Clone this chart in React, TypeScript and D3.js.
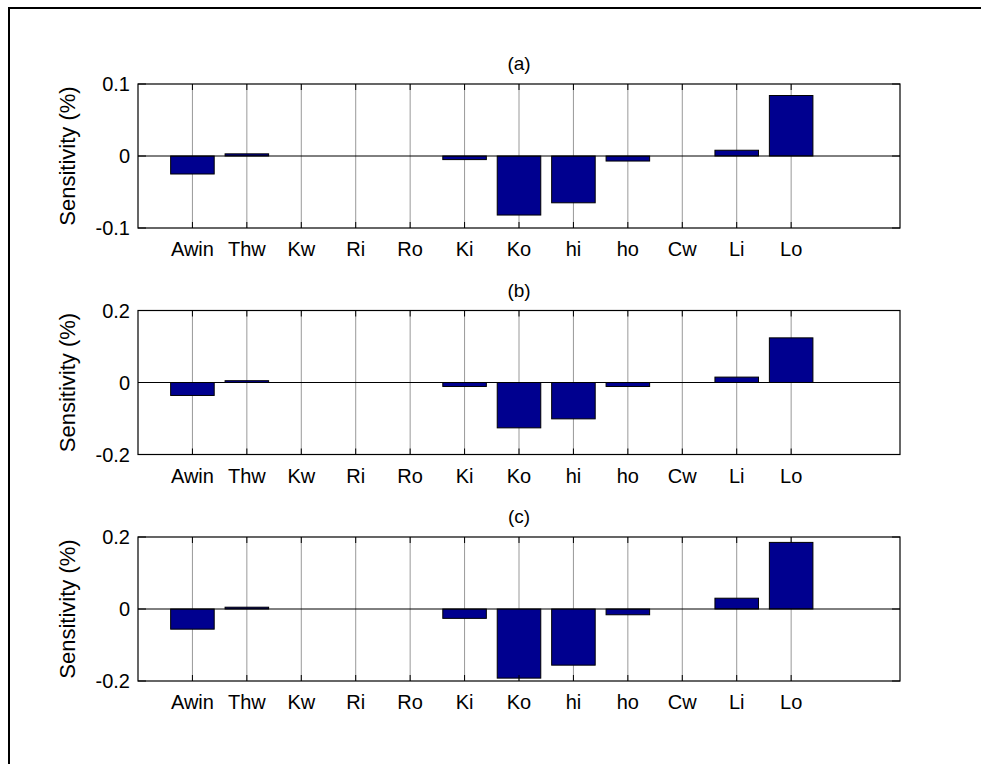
import React from 'react';
import * as d3 from 'd3';

// categories and sensitivities
const categories = ['Awin', 'Thw', 'Kw', 'Ri', 'Ro', 'Ki', 'Ko', 'hi', 'ho', 'Cw', 'Li', 'Lo'];
const sensA = [-0.025, 0.003, 0, 0, 0, -0.005, -0.082, -0.065, -0.007, 0, 0.008, 0.084];
const sensB = [-0.036, 0.005, 0, 0, 0, -0.011, -0.126, -0.101, -0.011, 0, 0.015, 0.124];
const sensC = [-0.056, 0.005, 0, 0, 0, -0.026, -0.192, -0.156, -0.016, 0, 0.03, 0.185];
const titles = ['(a)', '(b)', '(c)'];
const yTicksA = [-0.1, 0, 0.1];
const yTicksBC = [-0.2, 0, 0.2];

const W = 981;
const H = 764;
const FONT = '"Liberation Sans", Arial, Helvetica, sans-serif';
const left = 138;
const right = 900;
const panelTops = [84, 310.5, 537];
const panelH = 144;

const x = d3.scaleLinear().domain([0, categories.length + 2]).range([left, right]);
const bw = (x(1) - x(0)) * 0.8;

type PanelProps = { top: number; values: number[]; ticks: number[]; title: string };

const Panel = ({ top, values, ticks, title }: PanelProps) => {
  const ext = ticks[ticks.length - 1];
  const y = d3.scaleLinear().domain([-ext, ext]).range([top + panelH, top]);
  const y0 = y(0);
  return (
    <g>
      <text x={(left + right) / 2} y={top - 14} textAnchor="middle" fontSize={19} fontFamily={FONT}>
        {title}
      </text>
      {/* vertical grid */}
      {categories.map((c, i) => (
        <line key={'g' + c} x1={x(i + 1)} x2={x(i + 1)} y1={top} y2={top + panelH} stroke="#999" strokeWidth={1} />
      ))}
      {/* bars */}
      {values.map((v, i) => (
        <rect
          key={'b' + i}
          x={x(i + 1) - bw / 2}
          y={Math.min(y(v), y0)}
          width={bw}
          height={Math.abs(y(v) - y0)}
          fill="#00008f"
          stroke="#000"
          strokeWidth={1}
        />
      ))}
      {/* baseline */}
      <line x1={left} x2={right} y1={y0} y2={y0} stroke="#000" strokeWidth={1} />
      {/* x ticks top/bottom */}
      {categories.map((c, i) => (
        <g key={'t' + c}>
          <line x1={x(i + 1)} x2={x(i + 1)} y1={top} y2={top + 6} stroke="#000" />
          <line x1={x(i + 1)} x2={x(i + 1)} y1={top + panelH} y2={top + panelH - 6} stroke="#000" />
          <text x={x(i + 1)} y={top + panelH + 28} textAnchor="middle" fontSize={20} fontFamily={FONT}>
            {c}
          </text>
        </g>
      ))}
      {/* y ticks */}
      {ticks.map((t) => (
        <g key={'y' + t}>
          <line x1={left} x2={left + 8} y1={y(t)} y2={y(t)} stroke="#000" />
          <line x1={right} x2={right - 8} y1={y(t)} y2={y(t)} stroke="#000" />
          <text x={130} y={y(t)} dy="0.36em" textAnchor="end" fontSize={20} fontFamily={FONT}>
            {String(t)}
          </text>
        </g>
      ))}
      {/* box */}
      <rect x={left} y={top} width={right - left} height={panelH} fill="none" stroke="#000" strokeWidth={1.2} />
      <text
        transform={`translate(67,${top + panelH / 2}) rotate(-90)`}
        dy="0.36em"
        textAnchor="middle"
        fontSize={22}
        fontFamily={FONT}
      >
        Sensitivity (%)
      </text>
    </g>
  );
};

const App = () => {
  const series = [sensA, sensB, sensC];
  return (
    <svg width={W} height={H} style={{ position: 'absolute', left: 0, top: 0, background: '#fff' }}>
      <rect x={0} y={0} width={W} height={H} fill="#fff" />
      {/* outer frame: only left and top edges fall inside the picture */}
      <path d={`M9,${H}V8H${W}`} fill="none" stroke="#000" strokeWidth={2} />
      {series.map((s, k) => (
        <Panel key={k} top={panelTops[k]} values={s} ticks={k === 0 ? yTicksA : yTicksBC} title={titles[k]} />
      ))}
    </svg>
  );
};

export default App;
